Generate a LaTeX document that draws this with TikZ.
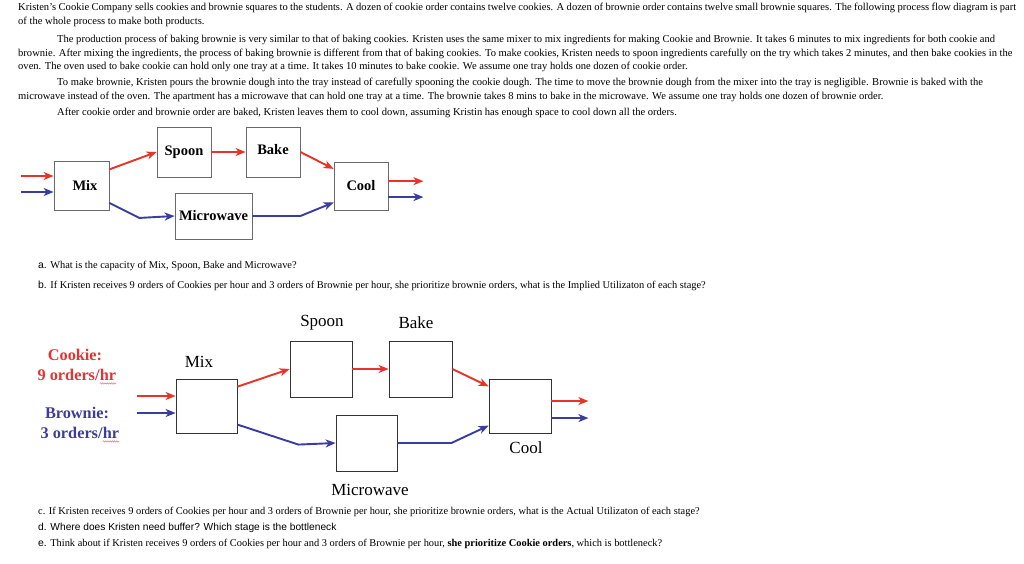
\documentclass[tikz,border=0pt]{standalone}
\usepackage{fontspec}
\setmainfont{Liberation Serif}
\newfontfamily\sansf{Liberation Sans}
\usetikzlibrary{arrows.meta,decorations.pathmorphing}
\definecolor{cred}{RGB}{232,52,40}
\definecolor{cblue}{RGB}{58,60,160}
\definecolor{tred}{RGB}{226,52,52}
\definecolor{tblue}{RGB}{62,62,150}
\definecolor{boxgray}{RGB}{105,105,105}
\definecolor{squigc}{RGB}{230,120,130}
\newcommand{\squig}[1]{\tikz[baseline=(sqw.base),x=1pt,y=1pt]{\node[inner sep=0pt,outer sep=0pt](sqw){#1};\draw[squigc,line width=0.5pt,decorate,decoration={snake,amplitude=0.7pt,segment length=2.2pt}]([yshift=-2.5pt]sqw.south west)--([yshift=-2.5pt]sqw.south east);}}
\begin{document}
\begin{tikzpicture}[x=1pt,y=-1pt,
  body/.style={anchor=base west,inner sep=0pt,font=\fontsize{10.55}{12}\selectfont},
  qtext/.style={anchor=base west,inner sep=0pt,font=\fontsize{10.4}{12}\selectfont},
  boxA/.style={draw=boxgray,line width=0.8pt,inner sep=0pt,font=\fontsize{14.5}{16}\selectfont\bfseries},
  boxB/.style={draw=black!80,line width=0.8pt,inner sep=0pt},
  lblB/.style={inner sep=0pt,font=\fontsize{17}{19}\selectfont},
  redarr/.style={draw=cred,line width=1.9pt,-{Stealth[length=10pt,width=8pt,inset=3pt]}},
  bluearr/.style={draw=cblue,line width=1.9pt,-{Stealth[length=10pt,width=8pt,inset=3pt]}}]
\useasboundingbox[fill=white] (0,0) rectangle (1024,564);

% ---------- body text ----------
\node[body] (t1) at (18,11) {\makebox[998pt][s]{Kristen’s Cookie Company sells cookies and brownie squares to the students. A dozen of cookie order contains twelve cookies. A dozen of brownie order contains twelve small brownie squares. The following process flow diagram is part}};
\node[body] (t2) at (18,25) {of the whole process to make both products.};
\node[body] (t3) at (57,43) {The production process of baking brownie is very similar to that of baking cookies. Kristen uses the same mixer to mix ingredients for making Cookie and Brownie. It takes 6 minutes to mix ingredients for both cookie and};
\node[body] (t4) at (18,57) {brownie. After mixing the ingredients, the process of baking brownie is different from that of baking cookies. To make cookies, Kristen needs to spoon ingredients carefully on the try which takes 2 minutes, and then bake cookies in the};
\node[body] (t5) at (18,70) {oven. The oven used to bake cookie can hold only one tray at a time. It takes 10 minutes to bake cookie. We assume one tray holds one dozen of cookie order.};
\node[body] (t6) at (57,86) {To make brownie, Kristen pours the brownie dough into the tray instead of carefully spooning the cookie dough. The time to move the brownie dough from the mixer into the tray is negligible. Brownie is baked with the};
\node[body] (t7) at (18,100) {microwave instead of the oven. The apartment has a microwave that can hold one tray at a time. The brownie takes 8 mins to bake in the microwave. We assume one tray holds one dozen of brownie order.};
\node[body] (t8) at (57,116) {After cookie order and brownie order are baked, Kristen leaves them to cool down, assuming Kristin has enough space to cool down all the orders.};

% ---------- diagram 1 ----------
\node[boxA,minimum width=55pt,minimum height=49pt] (mixA) at (81.5,185.5) {\hspace*{7pt}Mix};
\node[boxA,minimum width=54pt,minimum height=50pt] (spoonA) at (184,152) {Spoon};
\node[boxA,minimum width=54pt,minimum height=50pt] (bakeA) at (273,152) {Bake\rule[-6pt]{0pt}{0pt}};
\node[boxA,minimum width=54pt,minimum height=48pt] (coolA) at (361,186) {Cool};
\node[boxA,minimum width=77pt,minimum height=46pt] (microA) at (213.5,216) {Microwave};
\coordinate (inRA) at (21,176);
\coordinate (inBA) at (21,192);
\draw[redarr] (inRA) -- (inRA -| mixA.west);
\draw[bluearr] (inBA) -- (inBA -| mixA.west);
\draw[redarr] (mixA.30) -- (spoonA.west);
\draw[redarr] (spoonA.east) -- (bakeA.west);
\draw[redarr] (bakeA.east) -- (coolA.148);
\draw[bluearr] (mixA.-32) -- ++(30,15) -- (microA.west);
\draw[bluearr] (microA.east) -- ++(48,0) -- (coolA.211);
\draw[redarr] (coolA.10) -- ++(35,0);
\draw[bluearr] (coolA.-22) -- ++(35,0);

% ---------- questions a, b ----------
\node[qtext] (qa) at (38,268) {{\sansf a.} What is the capacity of Mix, Spoon, Bake and Microwave?};
\node[qtext] (qb) at (38,288) {{\sansf b.} If Kristen receives 9 orders of Cookies per hour and 3 orders of Brownie per hour, she prioritize brownie orders, what is the Implied Utilizaton of each stage?};

% ---------- diagram 2 ----------
\node[boxB,minimum width=61pt,minimum height=54pt] (mixB) at (206.5,406) {};
\node[boxB,minimum width=62pt,minimum height=56pt] (spoonB) at (321,369) {};
\node[boxB,minimum width=63pt,minimum height=56pt] (bakeB) at (420.5,369) {};
\node[boxB,minimum width=61pt,minimum height=56pt] (microB) at (366.5,443) {};
\node[boxB,minimum width=62pt,minimum height=54pt] (coolB) at (520,406) {};
\node[lblB] (lmix) at (199,362) {Mix};
\node[lblB] (lspoon) at (322,323) {Spoon};
\node[lblB] (lbake) at (416,323) {Bake};
\node[lblB] (lcool) at (526,448) {Cool};
\node[lblB] (lmicro) at (370,490) {Microwave};
\node[lblB,text=tred,font=\fontsize{16.3}{18}\selectfont\bfseries] (lck) at (75,355) {Cookie:};
\node[lblB,text=tred,font=\fontsize{16.3}{18}\selectfont\bfseries] (lck2) at (77,377) {9 orders/\squig{hr}};
\node[lblB,text=tblue,font=\fontsize{16.3}{18}\selectfont\bfseries] (lbr) at (77,413) {Brownie:};
\node[lblB,text=tblue,font=\fontsize{16.3}{18}\selectfont\bfseries] (lbr2) at (80,435) {3 orders/\squig{hr}};
\coordinate (inRB) at (137,396);
\coordinate (inBB) at (137,413);
\draw[redarr] (inRB) -- (inRB -| mixB.west);
\draw[bluearr] (inBB) -- (inBB -| mixB.west);
\draw[redarr] (mixB.32) -- (spoonB.west);
\draw[redarr] (spoonB.east) -- (bakeB.west);
\draw[redarr] (bakeB.east) -- (coolB.148);
\draw[bluearr] (mixB.-31) -- ++(61,20) -- (microB.west);
\draw[bluearr] (microB.east) -- ++(54,0) -- (coolB.212);
\draw[redarr] (coolB.9) -- ++(37,0);
\draw[bluearr] (coolB.-21) -- ++(37,0);

% ---------- questions c, d, e ----------
\node[qtext] (qc) at (38,514) {c. If Kristen receives 9 orders of Cookies per hour and 3 orders of Brownie per hour, she prioritize brownie orders, what is the Actual Utilizaton of each stage?};
\node[qtext,font=\fontsize{10.2}{12}\sansf] (qd) at (38,530) {d. Where does Kristen need buffer? Which stage is the bottleneck};
\node[qtext] (qe) at (38,546) {{\sansf e.} Think about if Kristen receives 9 orders of Cookies per hour and 3 orders of Brownie per hour, \textbf{she prioritize Cookie orders}, which is bottleneck?};
\end{tikzpicture}
\end{document}
